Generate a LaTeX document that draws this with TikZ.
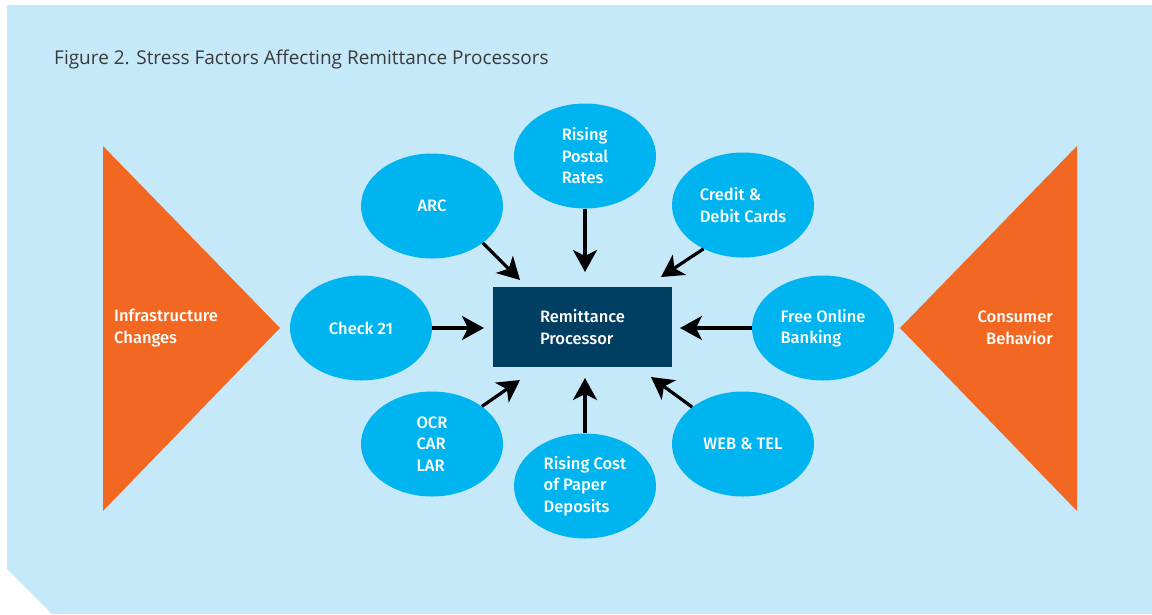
\documentclass[tikz,border=0pt]{standalone}
\usepackage{fontspec}
\setmainfont{Fira Sans}
\newfontfamily\labfont{Fira Sans Medium}
\newfontfamily\titlefont{Open Sans}
\usetikzlibrary{arrows.meta,shapes.geometric}
\definecolor{bgblue}{HTML}{C6E9F9}
\definecolor{cyanfill}{HTML}{00B5EF}
\definecolor{orangefill}{HTML}{F26722}
\definecolor{navy}{HTML}{003E62}
\definecolor{titlegray}{HTML}{3A3A3A}
\tikzset{
  factor/.style={ellipse, fill=cyanfill, minimum width=142pt, minimum height=105pt, inner sep=0pt,
    text=white, font=\labfont\fontsize{16.5}{21.5}\selectfont, align=left},
  hub/.style={rectangle, fill=navy, minimum width=179pt, minimum height=80pt, inner sep=0pt,
    text=white, font=\labfont\fontsize{16.5}{21.5}\selectfont, align=left},
  sidelabel/.style={text=white, font=\labfont\fontsize{16.5}{21.5}\selectfont, inner sep=0pt},
  push/.style={line width=3.2pt, -{Stealth[length=22pt,width=24pt,inset=6pt]}},
}
\begin{document}
\begin{tikzpicture}[x=1pt,y=-1pt]
\useasboundingbox (0,0) rectangle (1152,614);
\fill[white] (0,0) rectangle (1152,614);
\fill[bgblue] (7,5) -- (1152,5) -- (1152,614) -- (52,614) -- (7,569) -- cycle;
\node[anchor=base west, text=titlegray, font=\titlefont\fontsize{19}{22}\selectfont, inner sep=0pt] (title) at (54,64) {Figure 2. Stress Factors Affecting Remittance Processors};
% side triangles
\fill[orangefill] (103,146) -- (280,328) -- (103,511) -- cycle;
\fill[orangefill] (1077,146) -- (900,328) -- (1077,511) -- cycle;
\node[sidelabel, anchor=west, align=left] (infra) at (114,328) {Infrastructure\\Changes};
\node[sidelabel, anchor=east, align=right] (cons) at (1053,328) {Consumer\\Behavior};
% hub
\node[hub] (box) at (582.5,327) {Remittance\\Processor};
% factors
\node[factor] (arc) at (432,206) {ARC};
\node[factor] (postal) at (585,156) {Rising\\Postal\\Rates};
\node[factor] (credit) at (743,205) {Credit \&\\Debit Cards};
\node[factor] (check) at (361,328) {Check 21};
\node[factor] (free) at (823,328) {Free Online\\Banking};
\node[factor] (ocr) at (432,444) {OCR\\CAR\\LAR};
\node[factor] (cost) at (585,486) {Rising Cost\\of Paper\\Deposits};
\node[factor] (web) at (743,444) {WEB \& TEL};
% arrow tips
\coordinate (tarc) at (520,280);
\coordinate (tpostal) at (585,272);
\coordinate (tcredit) at (661,277);
\coordinate (tfree) at (680,328);
\coordinate (tcheck) at (484,328);
\coordinate (tocr) at (520,380);
\coordinate (tcost) at (585,378);
\coordinate (tweb) at (651,377);
\draw[push] (arc.-36) -- (tarc);
\draw[push] (postal.south) -- (tpostal);
\draw[push] (credit.-132) -- (tcredit);
\draw[push] (free.west) -- (tfree);
\draw[push] (check.east) -- (tcheck);
\draw[push] (ocr.37) -- (tocr);
\draw[push] (cost.north) -- (tcost);
\draw[push] (web.144) -- (tweb);
\end{tikzpicture}
\end{document}
